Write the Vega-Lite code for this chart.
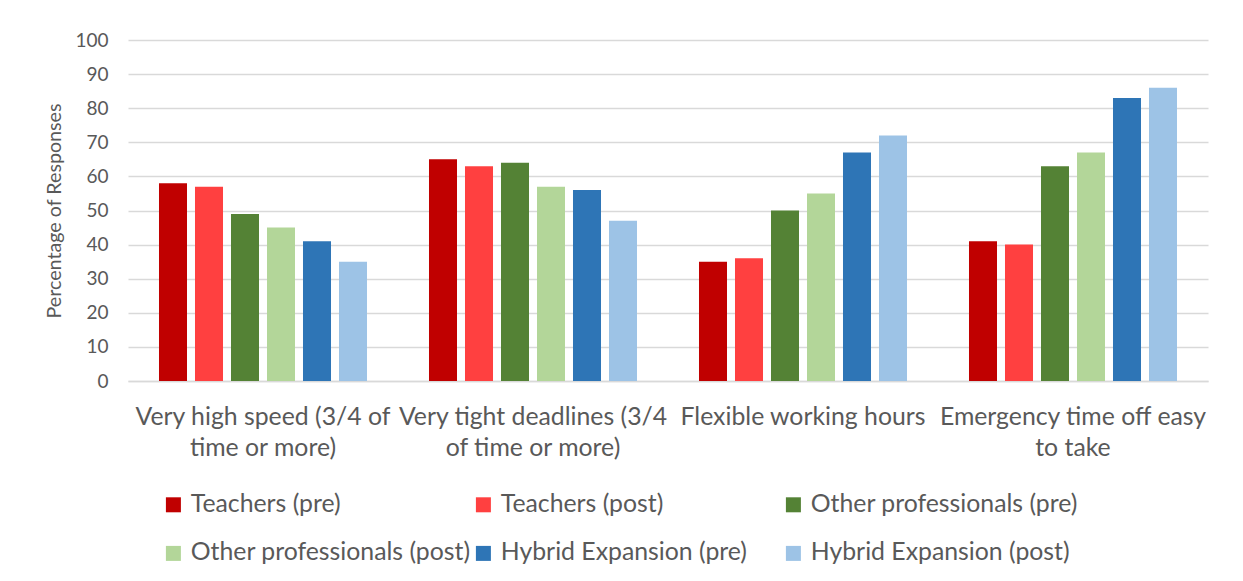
{
  "$schema": "https://vega.github.io/schema/vega-lite/v6.json",
  "width": 1080,
  "height": 341,
  "autosize": {"type": "none"},
  "padding": {"left": 128, "top": 40, "right": 35, "bottom": 200},
  "background": "white",
  "data": {
    "values": [
      {"category": "Very high speed (3/4 of time or more)", "group": "Teachers (pre)", "value": 58},
      {"category": "Very high speed (3/4 of time or more)", "group": "Teachers (post)", "value": 57},
      {"category": "Very high speed (3/4 of time or more)", "group": "Other professionals (pre)", "value": 49},
      {"category": "Very high speed (3/4 of time or more)", "group": "Other professionals (post)", "value": 45},
      {"category": "Very high speed (3/4 of time or more)", "group": "Hybrid Expansion (pre)", "value": 41},
      {"category": "Very high speed (3/4 of time or more)", "group": "Hybrid Expansion (post)", "value": 35},
      {"category": "Very tight deadlines (3/4 of time or more)", "group": "Teachers (pre)", "value": 65},
      {"category": "Very tight deadlines (3/4 of time or more)", "group": "Teachers (post)", "value": 63},
      {"category": "Very tight deadlines (3/4 of time or more)", "group": "Other professionals (pre)", "value": 64},
      {"category": "Very tight deadlines (3/4 of time or more)", "group": "Other professionals (post)", "value": 57},
      {"category": "Very tight deadlines (3/4 of time or more)", "group": "Hybrid Expansion (pre)", "value": 56},
      {"category": "Very tight deadlines (3/4 of time or more)", "group": "Hybrid Expansion (post)", "value": 47},
      {"category": "Flexible working hours", "group": "Teachers (pre)", "value": 35},
      {"category": "Flexible working hours", "group": "Teachers (post)", "value": 36},
      {"category": "Flexible working hours", "group": "Other professionals (pre)", "value": 50},
      {"category": "Flexible working hours", "group": "Other professionals (post)", "value": 55},
      {"category": "Flexible working hours", "group": "Hybrid Expansion (pre)", "value": 67},
      {"category": "Flexible working hours", "group": "Hybrid Expansion (post)", "value": 72},
      {"category": "Emergency time off easy to take", "group": "Teachers (pre)", "value": 41},
      {"category": "Emergency time off easy to take", "group": "Teachers (post)", "value": 40},
      {"category": "Emergency time off easy to take", "group": "Other professionals (pre)", "value": 63},
      {"category": "Emergency time off easy to take", "group": "Other professionals (post)", "value": 67},
      {"category": "Emergency time off easy to take", "group": "Hybrid Expansion (pre)", "value": 83},
      {"category": "Emergency time off easy to take", "group": "Hybrid Expansion (post)", "value": 86}
    ]
  },
  "mark": {"type": "bar"},
  "encoding": {
    "x": {
      "field": "category",
      "type": "nominal",
      "sort": null,
      "scale": {"paddingInner": 0, "paddingOuter": 0},
      "axis": {
        "title": null,
        "labelAngle": 0,
        "labelAlign": "center",
        "labelBaseline": "top",
        "labelPadding": 23,
        "labelLineHeight": 31,
        "labelFontSize": 24.8,
        "labelColor": "#595959",
        "labelFont": "Lato",
        "labelLimit": 0,
        "ticks": false,
        "domainColor": "#D9D9D9",
        "domainWidth": 1.5,
        "labelExpr": "datum.value == 'Very high speed (3/4 of time or more)' ? ['Very high speed (3/4 of', 'time or more)'] : datum.value == 'Very tight deadlines (3/4 of time or more)' ? ['Very tight deadlines (3/4', 'of time or more)'] : datum.value == 'Emergency time off easy to take' ? ['Emergency time off easy', 'to take'] : datum.value"
      }
    },
    "xOffset": {
      "field": "group",
      "type": "nominal",
      "sort": ["Teachers (pre)", "Teachers (post)", "Other professionals (pre)", "Other professionals (post)", "Hybrid Expansion (pre)", "Hybrid Expansion (post)"],
      "scale": {"paddingInner": 0.222, "paddingOuter": 0.861}
    },
    "y": {
      "field": "value",
      "type": "quantitative",
      "scale": {"domain": [0, 100]},
      "axis": {
        "title": "Percentage of Responses",
        "titleFont": "Lato",
        "titleFontSize": 19.7,
        "titleFontWeight": "normal",
        "titleColor": "#595959",
        "titlePadding": 10,
        "values": [0, 10, 20, 30, 40, 50, 60, 70, 80, 90, 100],
        "labelFont": "Lato",
        "labelFontSize": 19,
        "labelColor": "#595959",
        "labelPadding": 20,
        "domain": false,
        "ticks": false,
        "gridColor": "#D9D9D9",
        "gridWidth": 1.5
      }
    },
    "color": {
      "field": "group",
      "type": "nominal",
      "sort": ["Teachers (pre)", "Teachers (post)", "Other professionals (pre)", "Other professionals (post)", "Hybrid Expansion (pre)", "Hybrid Expansion (post)"],
      "scale": {
        "domain": ["Teachers (pre)", "Teachers (post)", "Other professionals (pre)", "Other professionals (post)", "Hybrid Expansion (pre)", "Hybrid Expansion (post)"],
        "range": ["#C00000", "#FF4040", "#548235", "#B3D699", "#2E75B6", "#9DC3E6"]
      },
      "legend": {
        "title": null,
        "orient": "none",
        "legendX": 33,
        "legendY": 452,
        "direction": "horizontal",
        "columns": 3,
        "gridAlign": "all",
        "columnPadding": 0,
        "rowPadding": 23,
        "padding": 0,
        "symbolType": "square",
        "symbolSize": 225,
        "symbolStrokeWidth": 0,
        "labelOffset": 5,
        "labelFont": "Lato",
        "labelFontSize": 24.8,
        "labelColor": "#595959",
        "labelLimit": 0
      }
    }
  },
  "config": {
    "view": {"stroke": null}
  }
}
